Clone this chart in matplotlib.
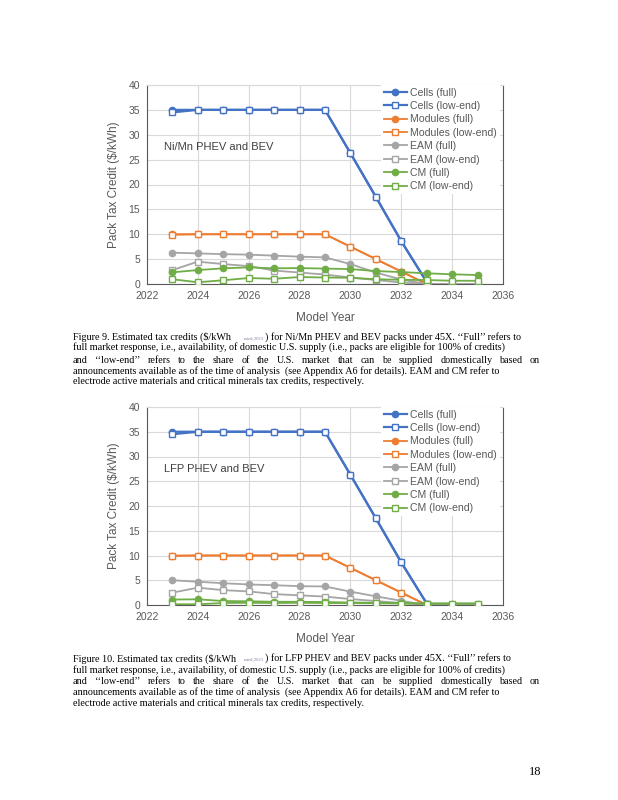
import numpy as np
import matplotlib
matplotlib.use("Agg")
import matplotlib.pyplot as plt

plt.rcParams['font.family'] = ['Liberation Sans', 'DejaVu Sans']

# model years
years = [2023, 2024, 2025, 2026, 2027, 2028, 2029, 2030, 2031, 2032, 2033, 2034, 2035]

# Figure 9: Ni/Mn PHEV and BEV ($/kWh)
nimn_cells_full = [35, 35, 35, 35, 35, 35, 35, 26.3, 17.5, 8.6, 0.4]
nimn_cells_low = [34.5, 35, 35, 35, 35, 35, 35, 26.3, 17.5, 8.6, 0.4]
nimn_modules_full = [10, 10, 10, 10, 10, 10, 10, 7.5, 5.0, 2.5, 0]
nimn_modules_low = [9.9, 10, 10, 10, 10, 10, 10, 7.5, 5.0, 2.5, 0]
nimn_eam_full = [6.3, 6.15, 6.0, 5.9, 5.7, 5.5, 5.35, 4.0, 2.3, 0.9, 0, 0, 0]
nimn_eam_low = [2.8, 4.5, 4.0, 3.6, 2.7, 2.3, 1.9, 1.3, 0.8, 0.3, 0, 0, 0]
nimn_cm_full = [2.35, 2.8, 3.15, 3.35, 3.15, 3.2, 3.1, 3.0, 2.6, 2.4, 2.15, 1.95, 1.8]
nimn_cm_low = [0.95, 0.35, 0.75, 1.2, 1.05, 1.4, 1.3, 1.25, 0.95, 0.85, 0.8, 0.65, 0.65]

# Figure 10: LFP PHEV and BEV ($/kWh)
lfp_cells_full = [35, 35, 35, 35, 35, 35, 35, 26.3, 17.5, 8.6, 0.3]
lfp_cells_low = [34.5, 35, 35, 35, 35, 35, 35, 26.3, 17.5, 8.6, 0.3]
lfp_modules_full = [10, 10, 10, 10, 10, 10, 10, 7.5, 5.0, 2.5, 0]
lfp_modules_low = [9.9, 10, 10, 10, 10, 10, 10, 7.5, 5.0, 2.5, 0]
lfp_eam_full = [5.0, 4.7, 4.4, 4.15, 4.0, 3.8, 3.75, 2.7, 1.75, 0.85, 0, 0, 0]
lfp_eam_low = [2.5, 3.5, 3.0, 2.75, 2.2, 1.95, 1.7, 1.2, 0.8, 0.4, 0, 0, 0]
lfp_cm_full = [1.1, 1.15, 0.8, 0.75, 0.65, 0.65, 0.6, 0.5, 0.45, 0.4, 0.3, 0.3, 0.3]
lfp_cm_low = [0.15, 0.15, 0.4, 0.45, 0.4, 0.45, 0.4, 0.4, 0.35, 0.3, 0.3, 0.3, 0.3]

series_labels = ['Cells (full)', 'Cells (low-end)', 'Modules (full)', 'Modules (low-end)',
                 'EAM (full)', 'EAM (low-end)', 'CM (full)', 'CM (low-end)']
series_colors = ['#4472C4', '#4472C4', '#ED7D31', '#ED7D31',
                 '#A5A5A5', '#A5A5A5', '#70AD47', '#70AD47']

caption_lines = ["full market response, i.e., availability, of domestic U.S. supply (i.e., packs are eligible for 100% of credits)",
                 "and \u2018\u2018low-end\u2019\u2019 refers to the share of the U.S. market that can be supplied domestically based on",
                 "announcements available as of the time of analysis  (see Appendix A6 for details). EAM and CM refer to",
                 "electrode active materials and critical minerals tax credits, respectively."]

TXT = '#595959'
SERIF = ['Liberation Serif', 'DejaVu Serif']
W, H = 618, 800

fig = plt.figure(figsize=(W / 100, H / 100), dpi=100)


def draw_chart(top, bottom, data, note):
    ax = fig.add_axes([147 / W, 1 - bottom / H, 356 / W, (bottom - top) / H])
    for i, vals in enumerate(data):
        x = years[:len(vals)]
        full = (i % 2 == 0)
        ax.plot(x, vals, color=series_colors[i], lw=1.6 if i < 2 else 1.3,
                marker='o' if full else 's', ms=4.5 if full else 5,
                mfc=series_colors[i] if full else 'white', mec=series_colors[i],
                mew=1.0, label=series_labels[i], zorder=3 + i)
    ax.set_xlim(2022, 2036)
    ax.set_ylim(0, 40)
    ax.set_xticks(range(2022, 2037, 2))
    ax.set_yticks(range(0, 41, 5))
    ax.grid(True, color='#D9D9D9', lw=0.8)
    ax.set_axisbelow(True)
    for s in ['left', 'bottom', 'right']:
        ax.spines[s].set_color('#595959')
        ax.spines[s].set_linewidth(0.8)
    ax.spines['top'].set_color('#D9D9D9')
    ax.tick_params(length=0, labelsize=7.5, labelcolor=TXT, pad=5)
    ax.set_ylabel('Pack Tax Credit ($/kWh)', fontsize=8.5, color=TXT, labelpad=6)
    ax.set_xlabel('Model Year', fontsize=8.5, color=TXT, labelpad=8)
    ax.text(2022.65, 27.5, note, fontsize=8, color='#404040', va='center')
    leg = ax.legend(loc='upper left', bbox_to_anchor=(0.658, 1.0), frameon=True,
                    edgecolor='none', facecolor='white', framealpha=1, fancybox=False,
                    borderpad=0.25, labelspacing=0.32, handlelength=2.2,
                    handletextpad=0.3, fontsize=7.6, borderaxespad=0)
    leg.set_zorder(20)
    for t in leg.get_texts():
        t.set_color(TXT)
    return ax


def justify(y, text, x0, x1, **kw):
    renderer = fig.canvas.get_renderer()
    words = text.split()
    objs = [fig.text(0, 1 - y / H, w, va='center', **kw) for w in words]
    widths = [o.get_window_extent(renderer).width for o in objs]
    gap = (x1 - x0 - sum(widths)) / (len(words) - 1)
    x = x0
    for o, w in zip(objs, widths):
        o.set_x(x / W)
        x += w + gap


def caption(ys, fig_no, topic, lines):
    kw = dict(family=SERIF, fontsize=7.3, color='black')
    y0 = 1 - ys[0] / H
    fig.text(73 / W, y0, 'Figure %d. Estimated tax credits ($/kWh' % fig_no, va='center', **kw)
    fig.text(244 / W, y0 - 0.002, 'rated,2023', va='center', fontsize=3.4, color='#8C7FA0',
             family=SERIF)
    fig.text(265 / W, y0, ') for %s PHEV and BEV packs under 45X. \u2018\u2018Full\u2019\u2019 refers to' % topic,
             va='center', **kw)
    fig.text(73 / W, 1 - ys[1] / H, lines[0], va='center', **kw)
    justify(ys[2], lines[1], 73, 540, **kw)
    fig.text(73 / W, 1 - ys[3] / H, lines[2], va='center', **kw)
    fig.text(73 / W, 1 - ys[4] / H, lines[3], va='center', **kw)


draw_chart(85, 284, [nimn_cells_full, nimn_cells_low, nimn_modules_full, nimn_modules_low,
                     nimn_eam_full, nimn_eam_low, nimn_cm_full, nimn_cm_low], 'Ni/Mn PHEV and BEV')
caption([337, 347.5, 361, 371.5, 382], 9, 'Ni/Mn', caption_lines)

draw_chart(407, 605, [lfp_cells_full, lfp_cells_low, lfp_modules_full, lfp_modules_low,
                      lfp_eam_full, lfp_eam_low, lfp_cm_full, lfp_cm_low], 'LFP PHEV and BEV')
caption([658.5, 670, 681.5, 692, 704], 10, 'LFP', caption_lines)

fig.text(535 / W, 1 - 772 / H, '18', fontsize=9, family=SERIF, va='center', ha='center')

fig.savefig('out.png', dpi=100)
